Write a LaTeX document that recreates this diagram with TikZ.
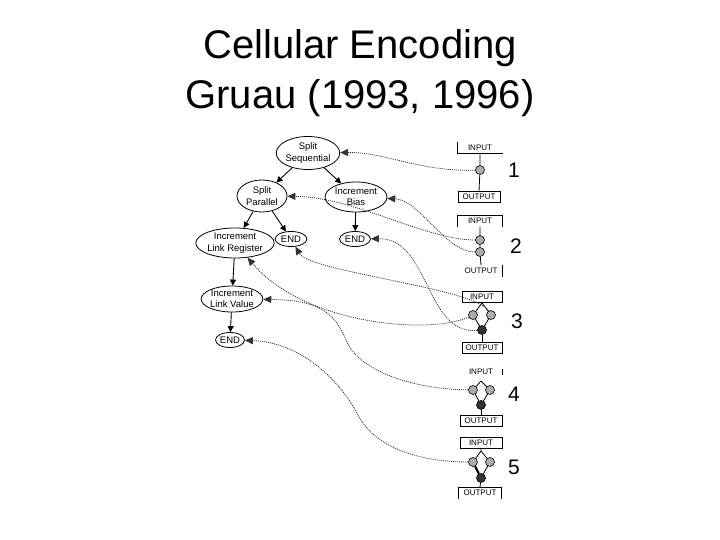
\documentclass[tikz,border=0pt]{standalone}
\usepackage{fontspec}
\setmainfont{Liberation Sans}
\usetikzlibrary{shapes.geometric,arrows.meta}
\begin{document}
\begin{tikzpicture}[x=1pt,y=-1pt,
  tn/.style={draw,ellipse,inner sep=0pt,align=center,font=\fontsize{9.5}{11.5}\selectfont,line width=0.8pt},
  tarr/.style={-{Triangle[length=6pt,width=6pt]},line width=0.9pt},
  conn/.style={-{Triangle[length=8pt,width=7pt]},dash pattern=on 1pt off 1pt,line width=0.8pt,black!80},
  io/.style={inner sep=0pt,minimum width=42pt,minimum height=11pt,font=\fontsize{8}{9}\selectfont},
  gc/.style={circle,draw,fill=gray!65,inner sep=0pt,minimum size=9pt,line width=0.6pt},
  bc/.style={circle,draw,fill=black!80,inner sep=0pt,minimum size=9pt,line width=0.6pt},
  lab/.style={font=\fontsize{21}{24}\selectfont},
  gl/.style={line width=0.8pt}
]
\useasboundingbox (0,0) rectangle (720,540);
\node[align=center,font=\fontsize{40}{50}\selectfont] (title) at (360,73) {Cellular Encoding\\Gruau (1993, 1996)};

% tree
\node[tn,minimum width=58pt,minimum height=33pt] (SS) at (308,153) {Split\\Sequential};
\node[tn,minimum width=50pt,minimum height=32pt] (SP) at (262,196) {Split\\Parallel};
\node[tn,minimum width=62pt,minimum height=30pt] (IB) at (356,197) {Increment\\Bias};
\node[tn,minimum width=66pt,minimum height=30pt] (ILR) at (235,243) {Increment\\Link Register};
\node[tn,minimum width=32pt,minimum height=15pt] (E1) at (291,239) {END};
\node[tn,minimum width=31pt,minimum height=15pt] (E2) at (355,239) {END};
\node[tn,minimum width=61pt,minimum height=26pt] (ILV) at (232,299) {Increment\\Link Value};
\node[tn,minimum width=29pt,minimum height=15pt] (E3) at (230,340) {END};

\draw[tarr] (SS) -- (SP);
\draw[tarr] (SS) -- (IB);
\draw[tarr] (SP) -- (ILR);
\draw[tarr] (SP) -- (E1);
\draw[tarr] (IB) -- (E2);
\draw[tarr] (ILR) -- (ILV);
\draw[tarr] (ILV) -- (E3);

% step 1
\node[io,minimum width=45pt] (in1) at (480,147.5) {INPUT};
\draw[gl] (in1.north west) -- (in1.south west) -- (in1.south east);
\node[io,draw,gl] (out1) at (479,197) {OUTPUT};
\node[gc] (c1) at (480,170) {};
\draw[gl] (in1.south) -- (c1) -- (out1.north);
\node[lab] (n1) at (514,170) {1};

% step 2
\node[io,minimum width=45pt] (in2) at (480,221) {INPUT};
\draw[gl] (in2.south west) -- (in2.north west) -- (in2.north east) -- (in2.south east);
\node[io] (out2) at (481,271) {OUTPUT};
\draw[gl] (out2.north east) -- (out2.south east);
\node[gc] (c2a) at (480,240) {};
\node[gc] (c2b) at (480,252) {};
\draw[gl] (in2.south) -- (c2a) -- (c2b) -- (out2.north);
\node[lab] (n2) at (516,246) {2};

% step 3
\node[io,draw,gl,minimum width=40pt] (in3) at (482,297) {INPUT};
\node[io,draw,gl,minimum width=40pt] (out3) at (482,348) {OUTPUT};
\node[gc] (l3) at (473,315) {};
\node[gc] (r3) at (491,315) {};
\node[bc] (b3) at (482,330) {};
\draw[gl] (in3.south) -- (l3) -- (b3) -- (r3) -- (in3.south);
\draw[gl] (b3) -- (out3.north);
\node[lab] (n3) at (517,321) {3};

% step 4
\node[io] (in4) at (481,372) {INPUT};
\draw[gl] ([yshift=-3pt]in4.north east) -- ([yshift=3pt]in4.south east);
\node[io,draw,gl] (out4) at (481,421) {OUTPUT};
\coordinate (t4) at (481,381);
\node[gc] (l4) at (473,390) {};
\node[gc] (r4) at (490,390) {};
\node[bc] (b4) at (481,405) {};
\draw[gl] (t4) -- (l4) -- (b4) -- (r4) -- (t4);
\draw[gl] (b4) -- (out4.north);
\node[lab] (n4) at (514,394) {4};

% step 5
\node[io,draw,gl] (in5) at (481,443) {INPUT};
\node[io] (out5) at (480,493) {OUTPUT};
\draw[gl] (out5.south west) -- (out5.north west) -- (out5.north east) -- (out5.south east);
\coordinate (t5) at (481,451);
\node[gc] (l5) at (473,462) {};
\node[gc] (r5) at (490,462) {};
\node[bc] (b5) at (481,478) {};
\draw[gl] (in5.south) -- (t5) -- (l5);
\draw[gl] (t5) -- (r5) -- (b5);
\draw[line width=2.2pt] (l5) -- (b5);
\draw[gl] (b5) -- (out5.north);
\node[lab] (n5) at (514,467) {5};

% connectors
\draw[conn] (c1) .. controls (420,172) and (385,152) .. (SS);
\draw[conn] (c2a) .. controls (425,240) and (355,197) .. (SP);
\draw[conn] (c2b) .. controls (445,252) and (420,200) .. (IB);
\draw[conn] (r3) .. controls (475,288) and (310,272) .. (E1);
\draw[conn] (l3) .. controls (430,335) and (305,325) .. (ILR);
\draw[conn] (b3) .. controls (425,335) and (430,238) .. (E2);
\draw[conn] (l4) .. controls (410,389) and (358,370) .. (346,340) .. controls (334,310) and (315,300) .. (ILV);
\draw[conn] (l5) .. controls (420,462) and (375,448) .. (358,415) .. controls (340,380) and (300,342) .. (E3);
\end{tikzpicture}
\end{document}
